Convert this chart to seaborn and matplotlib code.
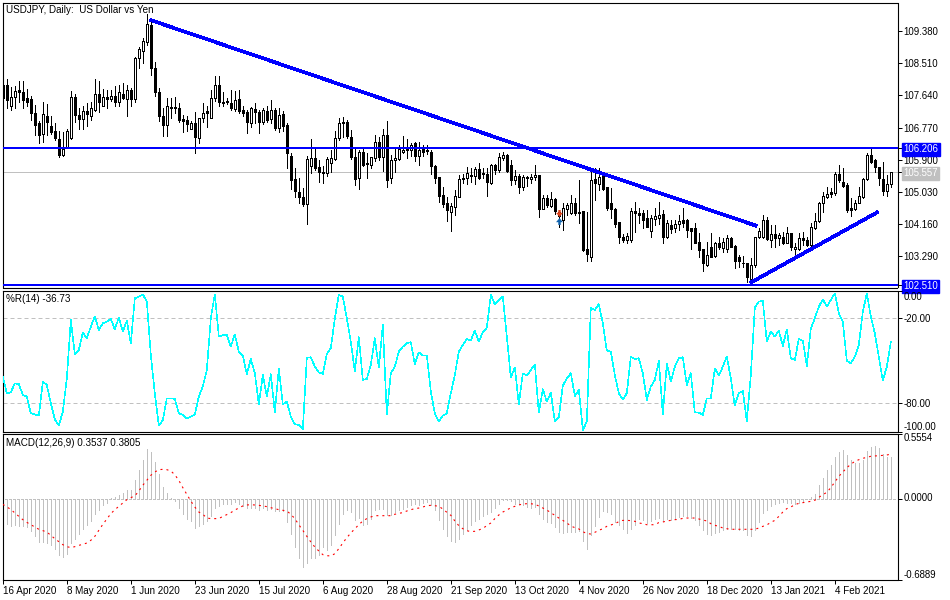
import numpy as np
import pandas as pd
import matplotlib
matplotlib.use("Agg")
import matplotlib.pyplot as plt
from matplotlib.path import Path
from matplotlib.transforms import ScaledTranslation
import seaborn as sns

opens = [107.92,107.92,107.36,107.59,107.79,107.74,107.58,107.54,107.16,106.89,
106.59,107.09,106.80,106.68,106.46,106.03,106.23,106.48,107.59,107.11,
107.00,107.22,107.07,107.25,107.67,107.36,107.59,107.54,107.63,107.47,
107.67,107.54,107.79,107.54,108.64,108.85,109.09,109.54,108.39,107.72,
107.08,106.84,107.29,107.32,107.29,107.00,106.98,106.73,106.89,106.50,
107.02,107.22,107.04,107.56,107.92,107.47,107.48,107.43,107.27,107.53,
107.25,107.20,106.89,107.26,107.20,106.91,107.23,107.00,107.25,106.77,
107.13,106.84,106.00,105.37,105.02,104.90,104.70,105.74,105.94,105.70,
105.56,105.54,105.82,105.92,106.48,106.89,106.91,106.51,105.97,105.42,
106.12,105.80,105.76,105.94,106.37,105.97,106.57,105.40,105.88,105.92,
106.12,106.16,106.16,106.35,106.00,106.19,106.15,106.12,105.73,105.43,
104.95,104.72,104.50,104.63,104.90,105.39,105.40,105.47,105.46,105.65,
105.53,105.52,105.26,105.76,105.61,105.96,106.03,105.76,105.34,105.46,
105.15,105.43,105.37,105.43,105.49,104.58,104.86,104.66,104.84,104.38,
104.27,104.58,104.47,104.72,104.45,104.52,103.48,103.28,105.37,105.25,
105.45,105.15,104.74,104.56,104.21,103.82,103.73,103.73,104.52,104.45,
104.45,104.32,103.98,104.30,104.32,104.43,103.82,104.14,104.05,104.16,
104.26,104.26,104.05,104.05,103.67,103.49,103.05,103.53,103.30,103.64,
103.52,103.50,103.78,103.57,103.28,103.12,103.10,102.68,103.06,103.80,
103.82,104.27,103.73,103.89,103.79,103.80,103.66,103.91,103.48,103.48,
103.78,103.73,103.60,104.05,104.25,104.74,104.90,105.04,105.01,105.52,
105.31,105.22,104.59,104.57,104.74,104.89,105.37,106.03,105.88,105.70,
105.37,105.06,105.24]

highs = [108.01,108.08,107.86,107.90,108.03,108.03,107.81,107.61,107.38,106.96,
107.47,107.41,107.08,106.89,106.69,106.66,106.72,107.77,107.67,107.29,
107.34,107.43,107.45,108.08,108.03,107.81,107.79,107.79,107.90,107.92,
107.97,107.92,107.83,108.69,108.96,109.18,109.84,109.68,108.55,107.83,
107.29,107.58,107.56,107.59,107.43,107.11,107.07,106.96,107.20,107.02,
107.43,107.34,107.79,108.17,108.17,107.74,107.56,107.79,107.77,107.79,
107.34,107.25,107.32,107.43,107.25,107.29,107.34,107.52,107.29,107.29,
107.22,106.89,106.09,105.67,105.40,105.13,105.99,106.45,106.21,105.90,
105.74,105.97,106.17,106.69,107.02,107.05,106.98,106.71,106.21,106.15,
106.18,106.08,105.98,106.57,106.51,106.72,106.95,106.03,106.21,106.30,
106.53,106.45,106.35,106.39,106.39,106.30,106.30,106.15,105.76,105.43,
105.15,104.90,104.74,105.08,105.49,105.52,105.71,105.67,105.71,105.81,
105.67,105.67,105.79,105.79,106.08,106.12,106.05,105.90,105.62,105.52,
105.49,105.46,105.52,105.76,105.49,104.95,104.95,105.04,104.86,104.54,
104.72,104.72,104.95,104.86,105.35,104.52,104.50,105.58,105.67,105.67,
105.58,105.15,105.13,104.59,104.21,103.90,103.91,104.59,104.77,104.59,
104.54,104.54,104.41,104.59,104.77,104.54,104.27,104.27,104.27,104.41,
104.59,104.29,104.05,104.18,103.91,103.49,103.69,103.91,103.69,103.82,
103.78,103.87,103.80,103.60,103.33,103.30,103.12,103.24,103.82,104.05,
104.41,104.36,104.14,104.14,103.91,103.96,104.09,103.91,103.64,103.91,
103.96,103.82,104.18,104.45,104.77,105.04,105.17,105.13,105.58,105.76,
105.67,105.26,104.86,104.81,105.17,105.40,106.07,106.21,105.92,105.71,
105.83,105.49,105.56]

lows = [107.38,107.29,107.25,107.29,107.47,107.31,107.34,106.98,106.57,106.35,
106.39,106.57,106.60,106.44,105.97,105.99,106.21,106.45,106.93,106.72,
106.72,106.81,106.98,107.23,107.20,107.34,107.29,107.50,107.36,107.36,
107.54,107.07,107.36,107.47,108.37,108.51,109.00,108.19,107.61,106.96,
106.55,106.55,107.02,107.16,106.93,106.64,106.69,106.73,106.08,106.35,
106.93,106.78,107.02,107.49,107.34,107.34,107.41,107.25,107.23,107.16,
107.07,106.62,106.78,106.89,106.63,106.87,106.93,106.89,106.71,106.66,
106.69,105.67,105.10,104.90,104.74,104.65,104.17,105.55,105.61,105.29,
105.28,105.46,105.58,105.90,106.44,106.51,106.48,105.92,105.22,105.10,
105.72,105.42,105.67,105.87,105.90,105.60,105.17,105.28,105.58,105.90,
106.09,105.94,106.00,105.87,105.76,106.00,106.05,105.52,105.26,104.77,
104.63,104.25,103.98,104.41,104.89,105.26,105.24,105.31,105.24,105.37,
105.40,104.93,105.25,105.52,105.58,105.90,105.58,105.22,105.25,105.01,
105.08,105.19,105.26,105.35,104.34,104.56,104.62,104.62,104.43,104.09,
104.00,104.41,104.44,104.41,104.18,103.44,103.17,103.17,104.80,105.08,
105.08,104.54,104.32,104.08,103.64,103.69,103.64,103.69,103.96,104.20,
104.05,104.07,103.82,104.14,104.16,103.66,103.78,103.91,103.96,104.00,
104.09,103.82,103.48,103.64,103.26,102.88,103.03,103.26,103.28,103.48,
103.42,103.42,103.53,102.97,103.00,103.01,102.60,102.60,103.01,103.78,
103.78,103.73,103.53,103.55,103.60,103.62,103.64,103.46,103.30,103.46,
103.60,103.57,103.57,104.04,104.23,104.50,104.86,104.90,104.95,105.31,
105.17,104.50,104.39,104.54,104.72,104.86,105.35,105.80,105.58,105.22,
104.95,104.91,105.15]

closes = [107.56,107.52,107.59,107.77,107.72,107.52,107.47,107.17,106.84,106.57,
107.14,106.91,106.66,106.48,106.03,106.18,106.68,107.59,107.11,106.99,
107.22,107.14,107.29,107.67,107.47,107.59,107.54,107.63,107.47,107.72,
107.58,107.79,107.54,108.64,108.89,109.12,109.57,108.39,107.72,107.08,
106.84,107.34,107.32,107.29,106.98,106.96,106.86,106.89,106.51,107.02,
107.16,107.16,107.56,107.92,107.45,107.43,107.46,107.31,107.52,107.23,
107.17,106.91,107.29,107.18,106.91,107.25,106.98,107.25,106.77,107.11,
106.82,106.09,105.36,105.06,104.90,104.70,105.91,105.94,105.67,105.56,
105.54,105.91,105.94,106.48,106.89,106.91,106.54,105.97,105.38,106.12,
105.76,105.78,105.97,106.37,105.97,106.57,105.34,105.90,105.94,106.18,
106.17,106.18,106.30,106.00,106.17,106.12,106.13,105.72,105.42,104.92,
104.71,104.54,104.65,104.92,105.38,105.41,105.54,105.49,105.65,105.42,
105.51,105.30,105.76,105.61,105.97,106.03,105.60,105.34,105.46,105.15,
105.43,105.41,105.43,105.49,104.58,104.86,104.68,104.84,104.52,104.50,
104.59,104.67,104.72,104.45,104.50,103.45,103.35,105.35,105.28,105.43,
105.11,104.59,104.56,104.17,103.81,103.73,103.84,104.52,104.45,104.41,
104.26,104.09,104.32,104.39,104.41,103.82,104.18,104.04,104.17,104.25,
104.20,104.00,103.97,103.66,103.46,103.10,103.32,103.28,103.64,103.53,
103.67,103.78,103.55,103.17,103.17,103.11,102.72,103.06,103.80,103.98,
104.27,103.75,103.89,103.79,103.86,103.66,103.91,103.53,103.53,103.78,
103.73,103.60,104.09,104.25,104.72,104.92,104.97,104.97,105.52,105.35,
105.19,104.54,104.53,104.72,104.92,105.37,106.03,105.85,105.70,105.40,
105.06,105.24,105.56]

williams_r = [-61.2,-72.9,-72.2,-65.9,-66.4,-74.1,-75.3,-87.1,-87.8,-88.7,
-64.7,-67.1,-80.0,-91.3,-95.8,-85.9,-62.4,-21.2,-45.2,-42.4,
-30.1,-34.1,-25.9,-18.8,-28.2,-23.5,-22.4,-20.5,-27.8,-19.5,
-29.4,-21.9,-37.6,-5.9,-4.7,-3.1,-8.2,-45.9,-72.9,-95.8,
-91.8,-76.5,-76.5,-76.9,-87.1,-88.2,-90.6,-89.4,-87.8,-75.3,
-67.8,-56.5,-20.0,-3.1,-32.9,-31.8,-31.8,-40.0,-31.3,-43.5,
-46.4,-59.5,-48.7,-58.8,-80.7,-60.0,-75.3,-59.5,-86.4,-55.3,
-80.7,-78.8,-89.4,-94.8,-95.3,-98.4,-47.8,-47.5,-54.1,-58.1,
-59.3,-45.2,-41.2,-20.0,-3.5,-4.7,-20.0,-36.5,-57.6,-33.4,
-63.5,-62.8,-52.9,-34.1,-54.8,-24.7,-87.8,-58.8,-54.1,-43.5,
-40.0,-37.6,-36.9,-52.5,-44.0,-46.4,-46.4,-71.8,-87.1,-92.9,
-88.7,-87.1,-72.9,-60.0,-43.5,-38.8,-34.6,-35.8,-28.7,-36.5,
-29.9,-26.6,-3.5,-10.1,-7.1,-4.7,-32.9,-61.9,-54.6,-80.7,
-58.8,-60.5,-56.5,-52.5,-86.4,-70.1,-78.8,-72.5,-92.5,-90.1,
-67.5,-62.4,-58.8,-74.8,-70.6,-98.8,-92.9,-12.5,-14.1,-10.1,
-23.5,-42.8,-43.5,-60.0,-72.9,-77.2,-72.9,-47.1,-48.7,-48.2,
-58.8,-77.6,-68.2,-63.5,-50.1,-87.8,-51.8,-64.7,-54.1,-48.2,
-47.5,-67.1,-58.8,-86.6,-86.6,-88.2,-76.5,-76.5,-55.3,-60.5,
-54.1,-47.1,-62.4,-81.6,-72.9,-71.3,-92.5,-60.0,-12.5,-8.2,
-7.8,-36.5,-29.4,-32.9,-28.9,-39.5,-27.8,-48.2,-49.4,-34.6,
-35.8,-53.6,-27.1,-20.0,-11.8,-6.6,-11.8,-7.1,-2.4,-16.5,
-22.4,-50.1,-51.8,-47.1,-38.8,-15.3,-2.4,-18.8,-30.6,-47.1,
-64.0,-54.1,-36.73]

macd_hist = [-.128,-.213,-.233,-.227,-.233,-.236,-.241,-.276,-.321,-.369,
-.369,-.378,-.398,-.432,-.483,-.497,-.474,-.378,-.341,-.298,
-.261,-.227,-.190,-.134,-.099,-.057,-.034,.003,.014,.028,
.051,.071,.071,.156,.241,.327,.420,.398,.312,.207,
.099,.048,.002,-.020,-.077,-.128,-.170,-.190,-.247,-.233,
-.219,-.190,-.151,-.077,-.065,-.048,-.043,-.048,-.028,-.043,
-.065,-.080,-.080,-.077,-.094,-.080,-.094,-.091,-.108,-.108,
-.108,-.199,-.304,-.412,-.506,-.582,-.548,-.506,-.506,-.483,
-.412,-.440,-.398,-.312,-.219,-.134,-.094,-.114,-.179,-.162,
-.227,-.213,-.170,-.099,-.085,-.085,-.142,-.142,-.114,-.099,
-.085,-.071,-.057,-.048,-.057,-.037,-.028,-.057,-.099,-.179,
-.256,-.321,-.364,-.369,-.341,-.304,-.270,-.227,-.190,-.170,
-.151,-.134,-.114,-.077,-.048,-.014,-.009,-.023,-.048,-.043,
-.057,-.071,-.077,-.071,-.128,-.170,-.199,-.207,-.241,-.284,
-.293,-.284,-.284,-.284,-.276,-.361,-.432,-.312,-.236,-.156,
-.108,-.114,-.128,-.199,-.227,-.256,-.293,-.256,-.227,-.170,
-.179,-.207,-.190,-.170,-.162,-.190,-.170,-.179,-.170,-.156,
-.148,-.151,-.162,-.185,-.227,-.270,-.298,-.307,-.293,-.284,
-.264,-.256,-.256,-.256,-.264,-.270,-.312,-.321,-.270,-.199,
-.119,-.094,-.065,-.048,-.037,-.028,-.034,-.037,-.043,-.034,
-.020,-.006,.014,.043,.114,.179,.241,.284,.355,.398,
.412,.369,.327,.304,.304,.327,.403,.440,.446,.432,
.383,.355,.3537]

macd_signal = [-.048,-.071,-.091,-.122,-.151,-.179,-.202,-.222,-.241,-.261,
-.273,-.284,-.312,-.341,-.366,-.392,-.409,-.417,-.409,-.398,
-.389,-.378,-.355,-.321,-.270,-.219,-.173,-.128,-.094,-.065,
-.037,-.009,.009,.023,.065,.114,.156,.199,.227,.247,
.250,.247,.236,.204,.156,.094,.037,-.020,-.071,-.114,
-.133,-.165,-.170,-.170,-.170,-.151,-.136,-.119,-.097,-.080,
-.062,-.054,-.051,-.054,-.057,-.062,-.068,-.077,-.085,-.094,
-.099,-.105,-.133,-.170,-.222,-.270,-.321,-.369,-.412,-.446,
-.477,-.486,-.488,-.469,-.426,-.378,-.332,-.293,-.256,-.222,
-.190,-.170,-.156,-.145,-.145,-.145,-.145,-.145,-.133,-.125,
-.119,-.105,-.094,-.085,-.080,-.071,-.060,-.057,-.060,-.065,
-.088,-.116,-.142,-.190,-.230,-.256,-.273,-.281,-.278,-.267,
-.253,-.230,-.207,-.170,-.139,-.114,-.097,-.077,-.065,-.054,
-.045,-.043,-.043,-.048,-.062,-.080,-.097,-.119,-.142,-.165,
-.185,-.207,-.233,-.247,-.258,-.281,-.298,-.301,-.287,-.270,
-.256,-.236,-.224,-.213,-.196,-.185,-.185,-.187,-.193,-.207,
-.213,-.222,-.222,-.222,-.204,-.199,-.190,-.185,-.179,-.176,
-.168,-.165,-.165,-.165,-.173,-.182,-.190,-.213,-.227,-.236,
-.250,-.256,-.261,-.261,-.261,-.261,-.261,-.261,-.261,-.250,
-.236,-.224,-.202,-.185,-.151,-.114,-.085,-.071,-.051,-.040,
-.034,-.028,-.023,-.014,.011,.034,.054,.094,.142,.190,
.227,.264,.293,.318,.332,.344,.352,.361,.364,.366,
.369,.372,.3805]

date_labels = ["16 Apr 2020","8 May 2020","1 Jun 2020","23 Jun 2020","15 Jul 2020",
               "6 Aug 2020","28 Aug 2020","21 Sep 2020","13 Oct 2020","4 Nov 2020",
               "26 Nov 2020","18 Dec 2020","13 Jan 2021","4 Feb 2021"]
date_bars = [0,16,32,48,64,80,96,112,128,144,160,176,192,208]
price_ticks = [109.38,108.51,107.64,106.77,105.90,105.03,104.16,103.29]
resistance, support, last_price = 106.206, 102.51, 105.557
down_trend = ([36.8,188.5],[109.68,104.11])
up_trend = ([186.8,218.8],[102.57,104.49])
sell_arrow, buy_arrow = (139,104.47),(139,104.24)

sns.set_theme(style="white")
FONT = "Liberation Sans"
plt.rcParams["font.family"] = [FONT, "DejaVu Sans"]
TXT = 7.1
NUM = 6.9
PX = 0.72
THIN = 0.42
W, H = 950, 600
L, R = 2.5, 897.5
fig = plt.figure(figsize=(9.5,6), dpi=100, facecolor="white")
def pane(top, bottom):
    return fig.add_axes([L/W, 1-bottom/H, (R-L)/W, (bottom-top)/H])
ax1 = pane(2.5,287.5); ax2 = pane(290.5,431.5); ax3 = pane(433.5,579.5)

n = len(closes)
x = np.arange(n)
o,h,l,c = map(np.array,(opens,highs,lows,closes))
frame = pd.DataFrame({"bar":x,"wr":williams_r,"hist":macd_hist,"sig":macd_signal})
xlim = (-0.08,223.67)

for ax in (ax1,ax2,ax3):
    ax.set_xlim(*xlim)
    ax.set_facecolor("white")
    for s in ax.spines.values():
        s.set_linewidth(0.8); s.set_color("black"); s.set_visible(True)
    ax.yaxis.tick_right()
    ax.tick_params(axis="y", length=3, width=PX, color="black", pad=1.2, labelsize=NUM, labelcolor="black", right=True, left=False)
    ax.tick_params(axis="x", length=0, bottom=False)
    ax.set_xticks([])
    ax.grid(False)

# candles
ax1.vlines(x,l,h,color="black",lw=PX,antialiased=False,zorder=2)
up = c>=o
bottoms = np.minimum(o,c); heights = np.maximum(np.abs(c-o),0.001)
ax1.bar(x,heights,bottom=bottoms,width=0.5,color=np.where(up,"white","black"),
        edgecolor="black",linewidth=PX,antialiased=False,zorder=3)
ax1.axhline(last_price,color="#c0c0c0",lw=PX,zorder=1)
ax1.axhline(resistance,color="#0000ff",lw=2*PX,zorder=5)
ax1.axhline(support,color="#0000ff",lw=2*PX,zorder=5)
ax1.plot(*down_trend,color="#0000ff",lw=2.6*PX,antialiased=False,solid_capstyle="butt",zorder=5)
ax1.plot(*up_trend,color="#0000ff",lw=2.6*PX,antialiased=False,solid_capstyle="butt",zorder=5)
arrow_down = Path([(-.35,1),(.35,1),(.35,.2),(1,.2),(0,-1),(-1,.2),(-.35,.2),(-.35,1)],closed=True)
arrow_up = Path([(-.35,-1),(.35,-1),(.35,-.2),(1,-.2),(0,1),(-1,-.2),(-.35,-.2),(-.35,-1)],closed=True)
ax1.plot(*sell_arrow,marker=arrow_down,ms=5,color="#e0441c",mew=0,zorder=6)
ax1.plot(*buy_arrow,marker=arrow_up,ms=5,color="#0f62ac",mew=0,zorder=6)
ax1.set_ylim(102.447,110.15)
ticks = price_ticks+[resistance,last_price,support]
ax1.set_yticks(ticks)
ax1.set_yticklabels([f"{t:.3f}" for t in ticks])
tl = ax1.get_yticklabels()
for lab,col in zip(tl[-3:],("#0000ff","#c0c0c0","#0000ff")):
    lab.set_color("white")
    lab.set_bbox(dict(facecolor=col,edgecolor=col,pad=1.0))
    lab.set_zorder(8)
fig.text(6/W,1-10/H,"USDJPY, Daily:  US Dollar vs Yen",fontsize=TXT,color="black",va="center",ha="left")

# %R
ax2.axhline(-20,color="#c0c0c0",lw=PX,dashes=(4,3),zorder=1)
ax2.axhline(-80,color="#c0c0c0",lw=PX,dashes=(4,3),zorder=1)
sns.lineplot(data=frame,x="bar",y="wr",ax=ax2,color="#00ffff",linewidth=THIN,estimator=None,sort=False,legend=False,zorder=3)
cyan_line = ax2.lines[-1]
cyan_line.set_antialiased(False); cyan_line.set_linewidth(THIN)
ax2.set_ylim(-99.9,-0.38)
ax2.set_xlabel(""); ax2.set_ylabel("")
ax2.yaxis.tick_right()
ax2.set_yticks([-0.38,-20,-80,-99.9])
ax2.set_yticklabels(["0.00","-20.00","-80.00","-100.00"])
labs = ax2.get_yticklabels()
labs[0].set_va("top"); labs[-1].set_va("bottom")
labs[0].set_transform(labs[0].get_transform()+ScaledTranslation(0,-1.5/100,fig.dpi_scale_trans))
fig.text(6/W,1-299/H,"%R(14) -36.73",fontsize=TXT,color="black",va="center",ha="left")

# MACD
ax3.vlines(x,0,frame["hist"],color="#c0c0c0",lw=PX,antialiased=False,zorder=2)
ax3.hlines(np.zeros(n+1),np.arange(n+1)-0.5,np.arange(n+1)+0.0,color="#c0c0c0",lw=PX,antialiased=False,zorder=2)
sns.lineplot(data=frame,x="bar",y="sig",ax=ax3,color="#ff0000",linewidth=0.8,estimator=None,sort=False,legend=False,zorder=4)
red_line = ax3.lines[-1]
red_line.set_linewidth(0.8); red_line.set_linestyle((0,(1.8,3.6))); red_line.set_dash_capstyle("butt")
ax3.set_ylim(-0.6889,0.5554)
ax3.set_xlabel(""); ax3.set_ylabel("")
ax3.yaxis.tick_right()
ax3.set_yticks([0.5554,0,-0.6889])
ax3.set_yticklabels(["0.5554","0.0000","-0.6889"])
labs = ax3.get_yticklabels()
labs[0].set_va("top"); labs[-1].set_va("bottom")
labs[1].set_transform(labs[1].get_transform()+ScaledTranslation(0,1.5/100,fig.dpi_scale_trans))
ax3.set_xticks(date_bars)
ax3.set_xticklabels(date_labels,ha="left")
ax3.tick_params(axis="x",length=3,width=PX,color="black",pad=1.5,labelsize=TXT,labelcolor="black",bottom=True)
fig.text(6/W,1-442.5/H,"MACD(12,26,9) 0.3537 0.3805",fontsize=TXT,color="black",va="center",ha="left")

fig.savefig("out.png",dpi=100,facecolor="white")
